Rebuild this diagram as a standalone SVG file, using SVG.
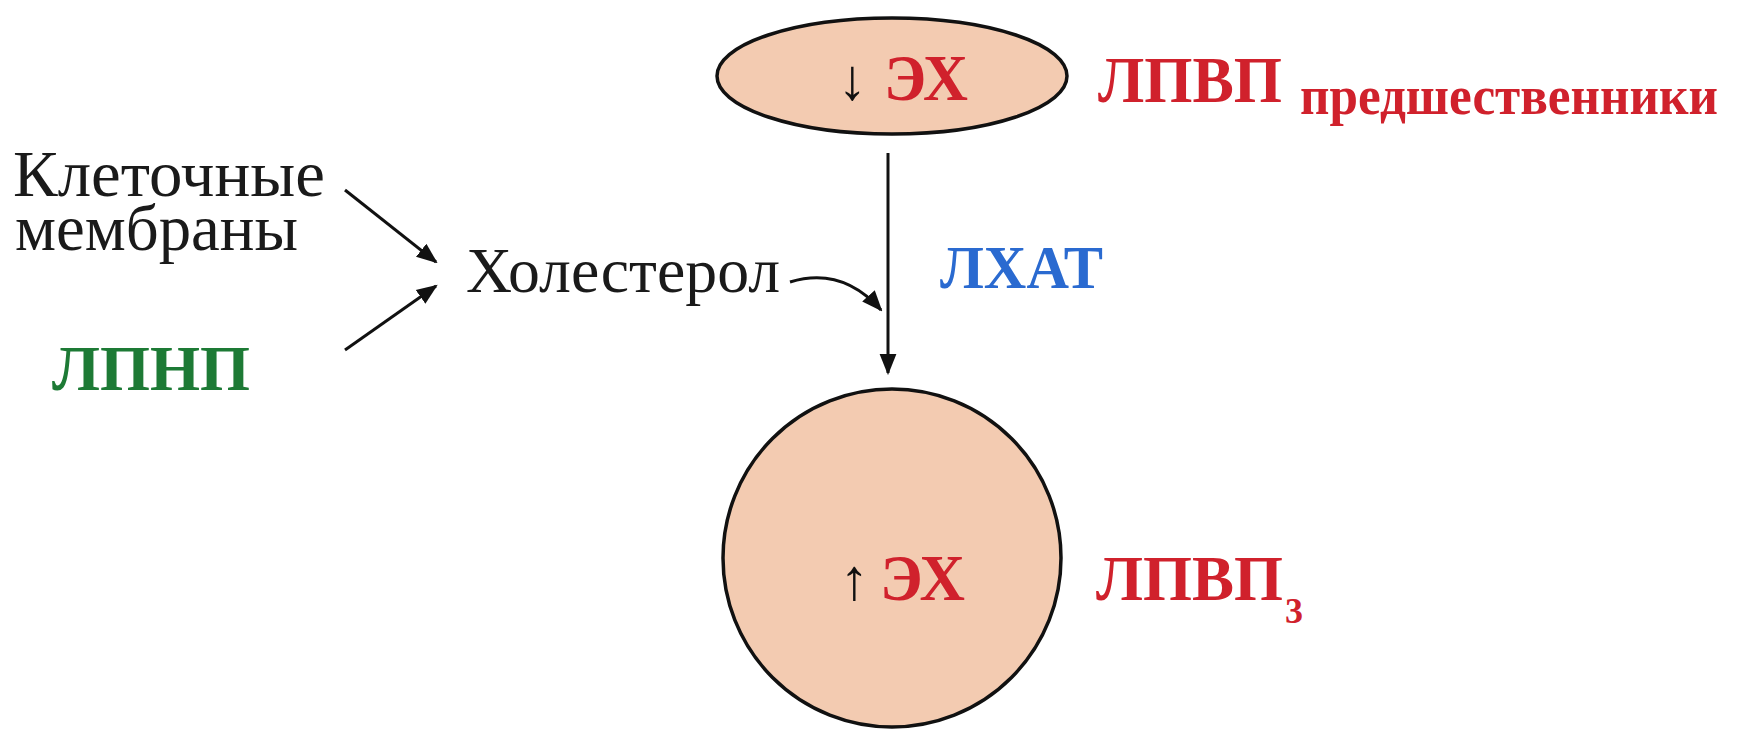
<svg xmlns="http://www.w3.org/2000/svg" width="1744" height="729" viewBox="0 0 1744 729">
<style>
.bg{fill:#ffffff}
.shape{fill:#f3cbb1;stroke:#111;stroke-width:3.5}
.t{font-family:"Liberation Serif","Times New Roman",serif;fill:#1a1a1a}
.b{font-family:"Liberation Serif","Times New Roman",serif;font-weight:bold}
.red{fill:#d0212c}
.blue{fill:#2a6ad0}
.green{fill:#1d7a35}
.arr{font-family:"Liberation Serif","DejaVu Serif",serif;font-weight:bold;fill:#111}
.conn{stroke:#111;stroke-width:3;fill:none}
</style>
<defs>
<marker id="ah" viewBox="0 0 10 10" refX="9" refY="5" markerWidth="7" markerHeight="7" orient="auto" markerUnits="strokeWidth">
<path d="M0,1 L10,5 L0,9 Z" fill="#111"/>
</marker>
</defs>
<rect class="bg" x="0" y="0" width="1744" height="729"/>
<g id="connectors">
<line class="conn" x1="888" y1="153" x2="888" y2="373" marker-end="url(#ah)"/>
<line class="conn" x1="345" y1="190" x2="436" y2="262" marker-end="url(#ah)"/>
<line class="conn" x1="345" y1="350" x2="436" y2="286" marker-end="url(#ah)"/>
<path class="conn" d="M790 282 Q842 266 881 310" marker-end="url(#ah)"/>
</g>
<g id="node-hdl-precursor">
<ellipse class="shape" cx="892" cy="76" rx="175" ry="58"/>
<text class="arr" x="838" y="99" font-size="58">↓</text>
<text class="b red" x="884" y="100" font-size="66" textLength="84" lengthAdjust="spacingAndGlyphs">ЭХ</text>
</g>
<g id="label-hdl-precursor">
<text class="b red" x="1098" y="102" font-size="66" textLength="184" lengthAdjust="spacingAndGlyphs">ЛПВП</text>
<text class="b red" x="1300" y="114" font-size="55" textLength="418" lengthAdjust="spacingAndGlyphs">предшественники</text>
</g>
<g id="node-hdl3">
<circle class="shape" cx="892" cy="558" r="169"/>
<text class="arr" x="840" y="599" font-size="58">↑</text>
<text class="b red" x="880" y="600" font-size="66" textLength="85" lengthAdjust="spacingAndGlyphs">ЭХ</text>
</g>
<g id="label-hdl3">
<text class="b red" x="1096" y="600" font-size="63">ЛПВП<tspan font-size="36" dx="2" dy="23">3</tspan></text>
</g>
<g id="label-lcat">
<text class="b blue" x="940" y="288" font-size="62" textLength="163" lengthAdjust="spacingAndGlyphs">ЛХАТ</text>
</g>
<g id="node-membranes">
<text class="t" x="13" y="196" font-size="66" textLength="312" lengthAdjust="spacingAndGlyphs">Клеточные</text>
<text class="t" x="15" y="250" font-size="66" textLength="283" lengthAdjust="spacingAndGlyphs">мембраны</text>
</g>
<g id="node-ldl">
<text class="b green" x="52" y="390" font-size="64" textLength="198" lengthAdjust="spacingAndGlyphs">ЛПНП</text>
</g>
<g id="node-cholesterol">
<text class="t" x="466" y="292" font-size="64" textLength="314" lengthAdjust="spacingAndGlyphs">Холестерол</text>
</g>
</svg>
